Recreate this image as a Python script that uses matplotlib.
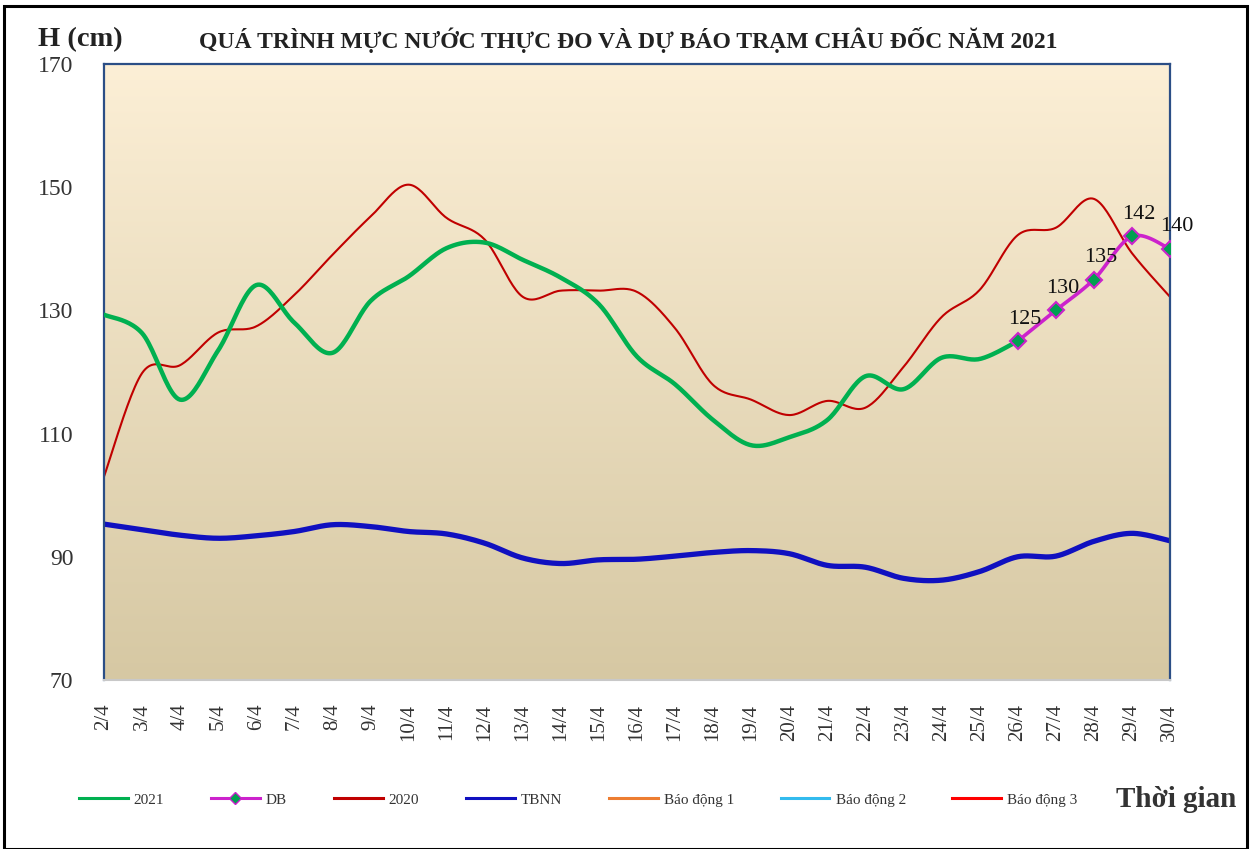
import numpy as np
import matplotlib
matplotlib.use("Agg")
import matplotlib.pyplot as plt
from matplotlib.patches import Rectangle
from matplotlib.lines import Line2D

plt.rcParams['font.family'] = ['Liberation Serif', 'DejaVu Serif']

# ngay 2/4 .. 30/4
days = list(range(2, 31))
tick_labels = [str(d) + "/4" for d in days]

h2021 = [129.3, 126.3, 115.5, 123.5, 134.1, 128.0, 123.1, 131.5, 135.5, 140.1,
         141.0, 138.2, 135.3, 131.0, 122.5, 118.0, 112.2, 108.1, 109.4, 112.2,
         119.3, 117.2, 122.3, 122.1, 125.0]
db_days = [26, 27, 28, 29, 30]
db = [125, 130, 135, 142, 140]
h2020 = [103.0, 119.8, 121.1, 126.4, 127.4, 132.5, 139.0, 145.2, 150.4, 145.0,
         141.5, 132.2, 133.2, 133.2, 133.0, 127.1, 117.9, 115.5, 113.0, 115.3,
         114.2, 120.8, 128.9, 133.3, 142.2, 143.4, 148.1, 139.3, 132.2]
tbnn = [95.3, 94.4, 93.5, 93.0, 93.4, 94.1, 95.2, 94.9, 94.1, 93.7,
        92.2, 89.8, 88.9, 89.5, 89.6, 90.1, 90.7, 91.0, 90.5, 88.6,
        88.3, 86.5, 86.2, 87.6, 90.0, 90.1, 92.5, 93.8, 92.6]
# muc bao dong (ngoai khung hinh)
bd1 = 350
bd2 = 400
bd3 = 450


def smooth(x, y, n=24):
    # kieu duong cong "smoothed line" cua Excel (Bezier, tension 1/6)
    x = np.asarray(x, float)
    y = np.asarray(y, float)
    if len(x) < 3:
        return x, y
    px = np.concatenate([[x[0]], x, [x[-1]]])
    py = np.concatenate([[y[0]], y, [y[-1]]])
    xs, ys = [], []
    t = np.linspace(0, 1, n)
    for i in range(1, len(px) - 2):
        p0 = np.array([px[i], py[i]])
        p3 = np.array([px[i + 1], py[i + 1]])
        p1 = p0 + (np.array([px[i + 1], py[i + 1]]) - np.array([px[i - 1], py[i - 1]])) / 6
        p2 = p3 - (np.array([px[i + 2], py[i + 2]]) - np.array([px[i], py[i]])) / 6
        b = ((1 - t) ** 3)[:, None] * p0 + (3 * (1 - t) ** 2 * t)[:, None] * p1 \
            + (3 * (1 - t) * t ** 2)[:, None] * p2 + (t ** 3)[:, None] * p3
        xs.extend(b[:, 0])
        ys.extend(b[:, 1])
    return np.array(xs), np.array(ys)


fig = plt.figure(figsize=(12.51, 8.49), dpi=100)
fig.patches.append(Rectangle((0.003, 0.0), 0.994, 0.993, transform=fig.transFigure,
                             fill=False, edgecolor='black', linewidth=2.2))
ax = fig.add_axes([0.0831, 0.1991, 0.8521, 0.7256])

# nen gradient
top = np.array([252, 239, 214]) / 255
bot = np.array([214, 200, 163]) / 255
g = np.linspace(0, 1, 256)[:, None]
grad = top[None, :] * (1 - g) + bot[None, :] * g
ax.imshow(grad[:, None, :], extent=[2, 30, 70, 170], aspect='auto', zorder=0)

x, y = smooth(days[:len(h2021)], h2021)
ax.plot(x, y, color='#00B050', lw=3.2, zorder=3, solid_capstyle='round')
x, y = smooth(days, h2020)
ax.plot(x, y, color='#C00000', lw=1.5, zorder=2)
x, y = smooth(days, tbnn)
ax.plot(x, y, color='#1010C0', lw=3.8, zorder=2)
x, y = smooth(db_days, db)
ax.plot(x, y, color='#CC22CC', lw=2.6, zorder=4)
ax.plot(db_days, db, linestyle='none', marker='D', markersize=8,
        markerfacecolor='#00A050', markeredgecolor='#CC22CC', markeredgewidth=1.5, zorder=5)
ax.plot(days, [bd1] * len(days), color='#ED7D31', lw=2)
ax.plot(days, [bd2] * len(days), color='#33BBEE', lw=2)
ax.plot(days, [bd3] * len(days), color='#FF0000', lw=2)

for d, v in zip(db_days, db):
    ax.annotate(str(v), (d, v), xytext=(5, 9), textcoords='offset points',
                ha='center', va='bottom', fontsize=16, color='#111111', zorder=6,
                annotation_clip=False)

ax.set_xlim(2, 30)
ax.set_ylim(70, 170)
ax.set_yticks([70, 90, 110, 130, 150, 170])
ax.set_xticks(days)
ax.set_xticklabels(tick_labels, rotation=90)
ax.tick_params(axis='y', length=0, pad=22, labelsize=17, labelcolor='#333333')
ax.tick_params(axis='x', length=0, pad=17, labelsize=15, labelcolor='#333333')
for s in ['left', 'right', 'top']:
    ax.spines[s].set_color('#2B4E86')
    ax.spines[s].set_linewidth(1.6)
ax.spines['bottom'].set_color('#C8C8C8')
ax.spines['bottom'].set_linewidth(1.5)

fig.text(0.030, 0.953, 'H (cm)', fontsize=20.5, fontweight='bold', color='#222222', va='center')
fig.text(0.502, 0.953, 'QUÁ TRÌNH MỰC NƯỚC THỰC ĐO VÀ DỰ BÁO TRẠM CHÂU ĐỐC NĂM 2021',
         fontsize=17, fontweight='bold', color='#222222', ha='center', va='center')
fig.text(0.892, 0.058, 'Thời gian', fontsize=21, fontweight='bold', color='#333333', va='center')

names = ['2021', 'DB', '2020', 'TBNN', 'Báo động 1', 'Báo động 2', 'Báo động 3']
colors = ['#00B050', '#CC22CC', '#C00000', '#1010C0', '#ED7D31', '#33BBEE', '#FF0000']
handles = []
for nm, c in zip(names, colors):
    if nm == 'DB':
        handles.append(Line2D([], [], color=c, lw=2.2, marker='D', markersize=6,
                              markerfacecolor='#00A050', markeredgecolor=c))
    else:
        handles.append(Line2D([], [], color=c, lw=2.2))
fig.legend(handles, names, ncol=7, frameon=False, loc='center left',
           bbox_to_anchor=(0.052, 0.058), fontsize=11, handlelength=3.2,
           handletextpad=0.4, columnspacing=3.05, labelcolor='#333333')

fig.savefig('out.png', dpi=100)
